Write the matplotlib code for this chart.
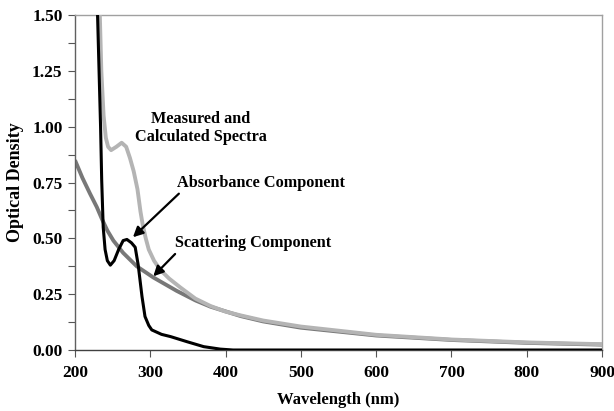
import matplotlib
matplotlib.use("Agg")
import matplotlib.pyplot as plt
from matplotlib.ticker import MultipleLocator, FormatStrFormatter

plt.rcParams['font.family'] = ['Liberation Serif', 'DejaVu Serif']
plt.rcParams['font.weight'] = 'bold'

# Measured and calculated spectra (light gray)
meas_wl = [233, 235, 238, 241, 244, 248, 255, 262, 268, 273, 278, 283, 287, 290, 294,
           298, 305, 313, 325, 340, 360, 380, 400, 420, 450, 500, 600, 700, 800, 900]
meas_od = [1.50, 1.25, 1.05, 0.95, 0.91, 0.895, 0.91, 0.928, 0.91, 0.86, 0.80, 0.72, 0.62,
           0.56, 0.50, 0.45, 0.40, 0.36, 0.32, 0.28, 0.23, 0.197, 0.172, 0.155, 0.132,
           0.105, 0.068, 0.047, 0.034, 0.026]

# Scattering component (dark gray)
scat_wl = [200, 210, 220, 229, 236, 243, 251, 264, 282, 304, 335, 360, 380, 420, 450,
           500, 600, 700, 800, 900]
scat_od = [0.85, 0.77, 0.70, 0.64, 0.585, 0.535, 0.49, 0.435, 0.375, 0.325, 0.265, 0.222,
           0.194, 0.152, 0.128, 0.100, 0.065, 0.045, 0.032, 0.024]

# Absorbance component (black)
abs_wl = [230, 232, 234, 235.5, 237.5, 240, 243, 247, 252, 258, 264, 269, 275, 280, 284,
          289, 293, 298, 302, 315, 327, 349, 371, 393, 410, 900]
abs_od = [1.50, 1.25, 1.00, 0.76, 0.55, 0.45, 0.40, 0.38, 0.40, 0.45, 0.49, 0.495, 0.48,
          0.46, 0.38, 0.24, 0.15, 0.11, 0.09, 0.07, 0.06, 0.037, 0.015, 0.004, 0.0, 0.0]

x_ticks = [200, 300, 400, 500, 600, 700, 800, 900]
y_ticks = [0.00, 0.25, 0.50, 0.75, 1.00, 1.25, 1.50]

fig = plt.figure(figsize=(6.14, 4.11), dpi=100)
ax = fig.add_axes([0.1221, 0.1484, 0.8584, 0.8151])

ax.plot(scat_wl, scat_od, color='#787878', lw=2.8, solid_capstyle='butt', zorder=2)
ax.plot(meas_wl, meas_od, color='#b4b4b4', lw=2.8, solid_capstyle='butt', zorder=3)
ax.plot(abs_wl, abs_od, color='black', lw=2.2, solid_capstyle='butt', zorder=4)

ax.set_xlim(200, 900)
ax.set_ylim(0, 1.5)
ax.set_xticks(x_ticks)
ax.set_yticks(y_ticks)
ax.yaxis.set_minor_locator(MultipleLocator(0.125))
ax.yaxis.set_major_formatter(FormatStrFormatter('%.2f'))
ax.tick_params(axis='both', which='both', direction='out', length=5, width=0.8,
               labelsize=12.5, color='#555555')
ax.tick_params(axis='x', pad=6)
ax.tick_params(axis='y', pad=4)
for lab in ax.get_xticklabels() + ax.get_yticklabels():
    lab.set_fontweight('bold')

ax.spines['left'].set_color('#606060')
ax.spines['bottom'].set_color('#404040')
ax.spines['top'].set_color('#a0a0a0')
ax.spines['right'].set_color('#a0a0a0')
for s in ax.spines.values():
    s.set_linewidth(1.0)

ax.set_xlabel('Wavelength (nm)', fontsize=12, fontweight='bold', labelpad=8)
ax.set_ylabel('Optical Density', fontsize=13, fontweight='bold', labelpad=6)

ax.text(367, 0.995, 'Measured and\nCalculated Spectra', ha='center', va='center',
        fontsize=11.7, fontweight='bold', linespacing=1.2)
ax.text(335, 0.746, 'Absorbance Component', ha='left', va='center',
        fontsize=11.7, fontweight='bold')
ax.text(333, 0.48, 'Scattering Component', ha='left', va='center',
        fontsize=11.7, fontweight='bold')

arrow = dict(arrowstyle='-|>,head_length=0.6,head_width=0.3', color='black', lw=1.6,
             shrinkA=0, shrinkB=0)
ax.annotate('', xy=(277, 0.505), xytext=(338, 0.70), arrowprops=arrow)
ax.annotate('', xy=(304, 0.33), xytext=(333, 0.43), arrowprops=arrow)

fig.savefig('out.png', dpi=100)
